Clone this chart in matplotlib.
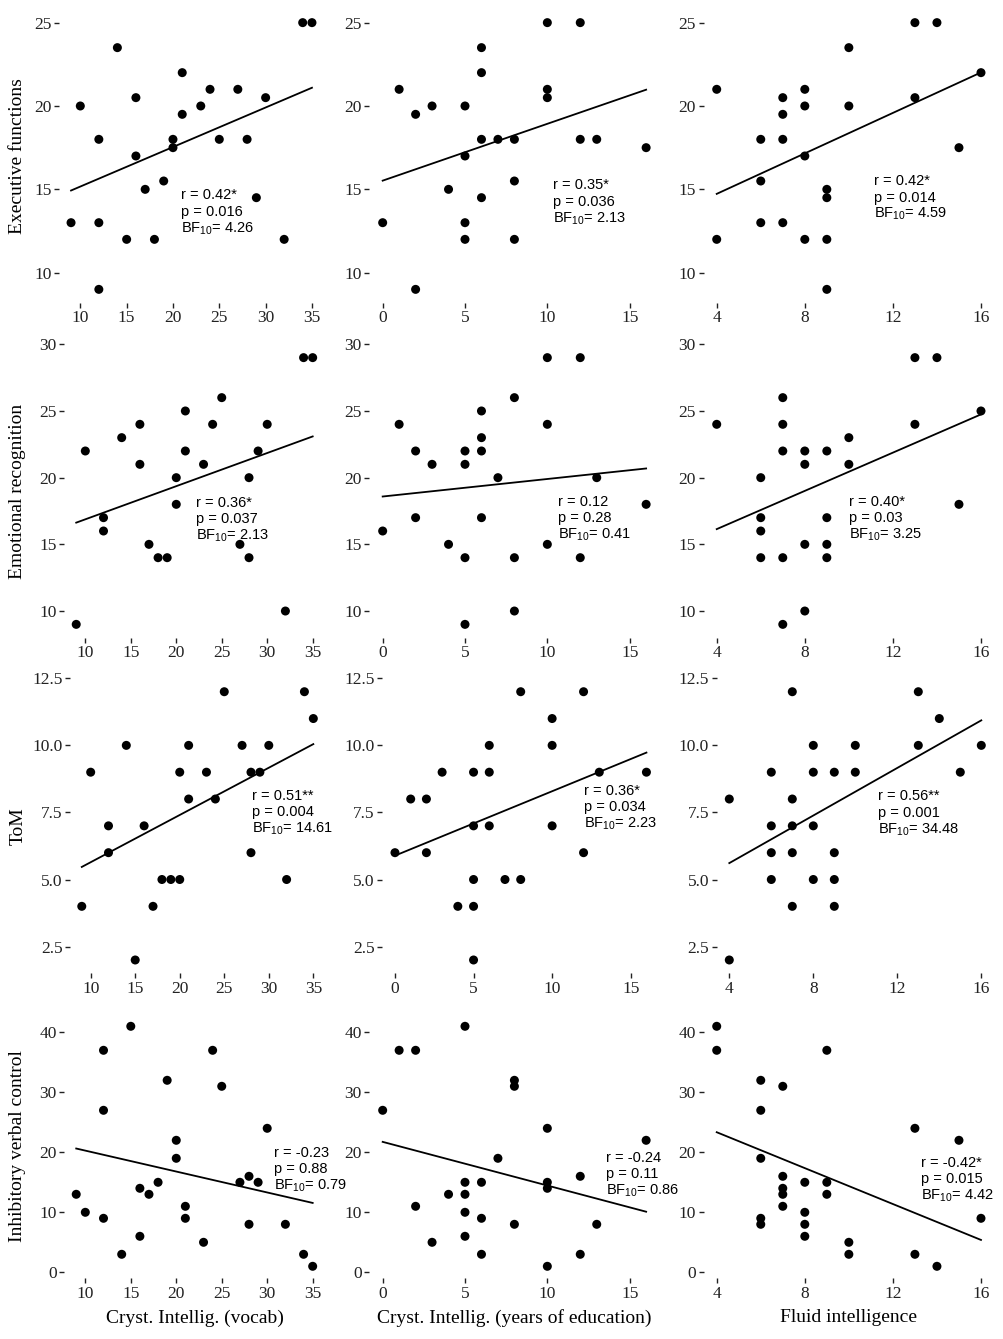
import matplotlib
matplotlib.use('Agg')
import matplotlib.pyplot as plt
import numpy as np

plt.rcParams['mathtext.fontset'] = 'custom'
plt.rcParams['mathtext.rm'] = 'Liberation Sans'
plt.rcParams['mathtext.it'] = 'Liberation Sans:italic'
plt.rcParams['mathtext.bf'] = 'Liberation Sans:bold'

# ---------------- data ----------------
# row 1: executive functions
vocab_ef_x = [34, 35, 14, 21, 24, 27, 16, 30, 10, 23, 21, 12, 20, 25, 28, 20, 16, 19, 17, 29, 9, 12, 15, 18, 32, 12]
vocab_ef_y = [25, 25, 23.5, 22, 21, 21, 20.5, 20.5, 20, 20, 19.5, 18, 18, 18, 18, 17.5, 17, 15.5, 15, 14.5, 13, 13, 12, 12, 12, 9]
edu_ef_x = [10, 12, 6, 6, 1, 10, 10, 3, 5, 2, 6, 7, 8, 12, 13, 16, 5, 8, 4, 6, 0, 5, 5, 8, 2]
edu_ef_y = [25, 25, 23.5, 22, 21, 21, 20.5, 20, 20, 19.5, 18, 18, 18, 18, 18, 17.5, 17, 15.5, 15, 14.5, 13, 13, 12, 12, 9]
fluid_ef_x = [13, 14, 10, 16, 4, 8, 7, 13, 8, 10, 7, 6, 7, 15, 8, 6, 9, 9, 6, 7, 4, 8, 9, 9]
fluid_ef_y = [25, 25, 23.5, 22, 21, 21, 20.5, 20.5, 20, 20, 19.5, 18, 18, 17.5, 17, 15.5, 15, 14.5, 13, 13, 12, 12, 12, 9]

# row 2: emotional recognition
vocab_er_x = [34, 35, 25, 21, 16, 24, 30, 14, 10, 21, 29, 16, 23, 20, 28, 20, 12, 12, 17, 27, 18, 19, 28, 32, 9]
vocab_er_y = [29, 29, 26, 25, 24, 24, 24, 23, 22, 22, 22, 21, 21, 20, 20, 18, 17, 16, 15, 15, 14, 14, 14, 10, 9]
edu_er_x = [10, 12, 8, 6, 1, 10, 6, 2, 5, 6, 3, 5, 7, 13, 16, 2, 6, 0, 4, 10, 5, 8, 12, 8, 5]
edu_er_y = [29, 29, 26, 25, 24, 24, 23, 22, 22, 22, 21, 21, 20, 20, 18, 17, 17, 16, 15, 15, 14, 14, 14, 10, 9]
fluid_er_x = [13, 14, 7, 16, 4, 7, 13, 10, 7, 8, 9, 8, 10, 6, 15, 6, 9, 6, 8, 9, 6, 7, 9, 8, 7]
fluid_er_y = [29, 29, 26, 25, 24, 24, 24, 23, 22, 22, 22, 21, 21, 20, 18, 17, 17, 16, 15, 15, 14, 14, 14, 10, 9]

# row 3: ToM
vocab_tom_x = [25, 34, 35, 14, 21, 27, 30, 10, 20, 23, 28, 29, 21, 24, 12, 16, 12, 28, 18, 19, 20, 32, 9, 17, 15]
vocab_tom_y = [12, 12, 11, 10, 10, 10, 10, 9, 9, 9, 9, 9, 8, 8, 7, 7, 6, 6, 5, 5, 5, 5, 4, 4, 2]
edu_tom_x = [8, 12, 10, 6, 10, 3, 5, 6, 13, 16, 1, 2, 5, 6, 10, 0, 2, 12, 5, 7, 8, 4, 5, 5]
edu_tom_y = [12, 12, 11, 10, 10, 9, 9, 9, 9, 9, 8, 8, 7, 7, 7, 6, 6, 6, 5, 5, 5, 4, 4, 2]
fluid_tom_x = [7, 13, 14, 8, 10, 13, 16, 6, 8, 9, 10, 15, 4, 7, 6, 7, 8, 6, 7, 9, 6, 8, 9, 7, 9, 4]
fluid_tom_y = [12, 12, 11, 10, 10, 10, 10, 9, 9, 9, 9, 9, 8, 8, 7, 7, 7, 6, 6, 6, 5, 5, 5, 4, 4, 2]

# row 4: inhibitory verbal control
vocab_ivc_x = [15, 12, 24, 19, 25, 12, 30, 20, 20, 28, 18, 27, 29, 16, 9, 17, 21, 10, 12, 21, 28, 32, 16, 23, 14, 34, 35]
vocab_ivc_y = [41, 37, 37, 32, 31, 27, 24, 22, 19, 16, 15, 15, 15, 14, 13, 13, 11, 10, 9, 9, 8, 8, 6, 5, 3, 3, 1]
edu_ivc_x = [5, 1, 2, 8, 8, 0, 10, 16, 7, 12, 5, 6, 10, 10, 4, 5, 2, 5, 6, 8, 13, 5, 3, 6, 12, 10]
edu_ivc_y = [41, 37, 37, 32, 31, 27, 24, 22, 19, 16, 15, 15, 15, 14, 13, 13, 11, 10, 9, 8, 8, 6, 5, 3, 3, 1]
fluid_ivc_x = [4, 4, 9, 6, 7, 6, 13, 15, 6, 7, 8, 9, 7, 7, 9, 7, 8, 6, 16, 6, 8, 8, 10, 10, 13, 14]
fluid_ivc_y = [41, 37, 37, 32, 31, 27, 24, 22, 19, 16, 15, 15, 14, 13, 13, 11, 10, 9, 9, 8, 8, 6, 5, 3, 3, 1]

r_labels = ['r = 0.42*', 'r = 0.35*', 'r = 0.42*',
            'r = 0.36*', 'r = 0.12', 'r = 0.40*',
            'r = 0.51**', 'r = 0.36*', 'r = 0.56**',
            'r = -0.23', 'r = -0.24', 'r = -0.42*']
p_labels = ['p = 0.016', 'p = 0.036', 'p = 0.014',
            'p = 0.037', 'p = 0.28', 'p = 0.03',
            'p = 0.004', 'p = 0.034', 'p = 0.001',
            'p = 0.88', 'p = 0.11', 'p = 0.015']
bf_labels = ['4.26', '2.13', '4.59',
             '2.13', '0.41', '3.25',
             '14.61', '2.23', '34.48',
             '0.79', '0.86', '4.42']

row_titles = ['Executive functions', 'Emotional recognition', 'ToM', 'Inhibitory verbal control']
col_titles = ['Cryst. Intellig. (vocab)', 'Cryst. Intellig. (years of education)', 'Fluid intelligence']
row_yticks = [[10, 15, 20, 25], [10, 15, 20, 25, 30], [2.5, 5, 7.5, 10, 12.5], [0, 10, 20, 30, 40]]
col_xticks = [[10, 15, 20, 25, 30, 35], [0, 5, 10, 15], [4, 8, 12, 16]]

panels = [[(vocab_ef_x, vocab_ef_y), (edu_ef_x, edu_ef_y), (fluid_ef_x, fluid_ef_y)],
          [(vocab_er_x, vocab_er_y), (edu_er_x, edu_er_y), (fluid_er_x, fluid_er_y)],
          [(vocab_tom_x, vocab_tom_y), (edu_tom_x, edu_tom_y), (fluid_tom_x, fluid_tom_y)],
          [(vocab_ivc_x, vocab_ivc_y), (edu_ivc_x, edu_ivc_y), (fluid_ivc_x, fluid_ivc_y)]]

# ---------------- layout (pixels) ----------------
W, H = 1004, 1339
row_tb = [(9.3, 302.7), (344.3, 637.7), (678.3, 973.4), (1014.3, 1278.3)]
row_lr = [[(59, 324), (369.5, 659.3), (703.5, 994.2)],
          [(64.4, 324.5), (369.5, 659.3), (703.5, 994.2)],
          [(70.2, 324.9), (382.4, 659), (716.7, 993.9)],
          [(64.4, 324.5), (369.5, 659.3), (703.5, 994.2)]]
# stats text anchor (axes fraction: left, first line centre)
txt_pos = [[(0.460, 0.367), (0.634, 0.401), (0.588, 0.415)],
           [(0.505, 0.460), (0.649, 0.464), (0.500, 0.464)],
           [(0.715, 0.602), (0.730, 0.619), (0.583, 0.601)],
           [(0.806, 0.476), (0.815, 0.457), (0.747, 0.438)]]

serif = 'Liberation Serif'
sans = 'Liberation Sans'
tick_col = '#222222'

fig = plt.figure(figsize=(W / 100, H / 100), dpi=100, facecolor='w')

for i in range(4):
    top, bot = row_tb[i]
    for j in range(3):
        left, right = row_lr[i][j]
        ax = fig.add_axes([left / W, 1 - bot / H, (right - left) / W, (bot - top) / H])
        x = np.array(panels[i][j][0], dtype=float)
        y = np.array(panels[i][j][1], dtype=float)
        ax.scatter(x, y, s=42, color='black', edgecolors='none', zorder=3)

        # least-squares line over the data range
        m, b = np.polyfit(x, y, 1)
        xs = np.array([x.min(), x.max()])
        ax.plot(xs, m * xs + b, color='black', lw=1.3, zorder=2)

        xpad = 0.05 * (x.max() - x.min())
        ypad = 0.05 * (y.max() - y.min())
        ax.set_xlim(x.min() - xpad, x.max() + xpad)
        ax.set_ylim(y.min() - ypad, y.max() + ypad)

        for s in ax.spines.values():
            s.set_visible(False)
        ax.set_xticks(col_xticks[j])
        ax.set_yticks(row_yticks[i])
        if i == 2:
            ax.set_yticklabels(['%.1f' % v for v in row_yticks[i]])
        ax.tick_params(direction='out', length=3.5, width=1.0, color=tick_col,
                       labelsize=12.5, labelcolor=tick_col, pad=2.0)
        for lab in ax.get_xticklabels() + ax.get_yticklabels():
            lab.set_family(serif)

        tx, ty = txt_pos[i][j]
        k = i * 3 + j
        lines = [r_labels[k], p_labels[k], 'BF$_{10}$= ' + bf_labels[k]]
        for n, s in enumerate(lines):
            ax.annotate(s, xy=(tx, ty), xycoords='axes fraction',
                        xytext=(0, -12 * n), textcoords='offset points',
                        ha='left', va='center', fontsize=10.5, family=sans,
                        color='black', annotation_clip=False)

        if j == 0:
            fig.text(18 / W, 1 - (top + bot) / 2 / H, row_titles[i], rotation=90,
                     ha='center', va='center', fontsize=14, family=serif)
        if i == 3:
            fig.text((left + right) / 2 / W, 1 - 1318 / H, col_titles[j],
                     ha='center', va='center', fontsize=14, family=serif)

plt.savefig('out.png', dpi=100)
